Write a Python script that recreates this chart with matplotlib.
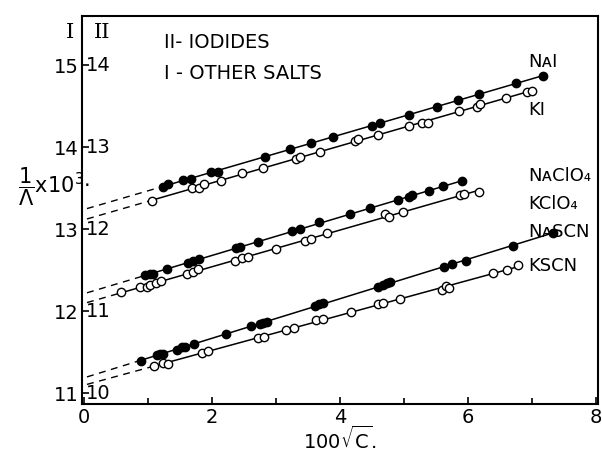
import numpy as np
import matplotlib.pyplot as plt

# 100*sqrt(C) and 1/Lambda x 10^3 (scale I; iodides are read on scale II = I - 1)
nai_x = [1.23, 1.31, 1.55, 1.67, 1.98, 2.09, 2.83, 3.22, 3.55, 3.89, 4.50, 4.62, 5.08, 5.52, 5.84, 6.17, 6.75, 7.17]
nai_y = [13.51, 13.55, 13.60, 13.61, 13.70, 13.70, 13.88, 13.98, 14.05, 14.12, 14.26, 14.29, 14.39, 14.49, 14.57, 14.65, 14.78, 14.87]

ki_x = [1.06, 1.69, 1.80, 1.88, 2.14, 2.47, 2.80, 3.31, 3.38, 3.69, 4.23, 4.28, 4.59, 5.08, 5.28, 5.38, 5.86, 6.14, 6.19, 6.59, 6.92, 7.00]
ki_y = [13.34, 13.50, 13.50, 13.55, 13.59, 13.68, 13.74, 13.85, 13.88, 13.94, 14.07, 14.10, 14.15, 14.26, 14.30, 14.30, 14.44, 14.49, 14.52, 14.60, 14.67, 14.68]

naclo4_x = [0.95, 1.03, 1.08, 1.30, 1.63, 1.70, 1.80, 2.38, 2.44, 2.72, 3.25, 3.38, 3.67, 4.16, 4.47, 4.91, 5.08, 5.13, 5.39, 5.61, 5.91]
naclo4_y = [12.44, 12.45, 12.45, 12.51, 12.59, 12.61, 12.63, 12.77, 12.78, 12.84, 12.98, 13.00, 13.09, 13.18, 13.26, 13.35, 13.39, 13.41, 13.46, 13.52, 13.59]

kclo4_x = [0.58, 0.88, 0.98, 1.03, 1.13, 1.20, 1.61, 1.70, 1.78, 2.36, 2.47, 2.56, 3.00, 3.45, 3.55, 3.80, 4.70, 4.77, 4.98, 5.88, 5.94, 6.17]
kclo4_y = [12.23, 12.29, 12.29, 12.32, 12.34, 12.37, 12.45, 12.48, 12.51, 12.61, 12.65, 12.66, 12.76, 12.85, 12.88, 12.95, 13.18, 13.15, 13.21, 13.41, 13.43, 13.45]

nascn_x = [0.89, 1.14, 1.19, 1.23, 1.45, 1.53, 1.58, 1.72, 2.22, 2.61, 2.75, 2.80, 2.86, 3.61, 3.67, 3.73, 4.59, 4.67, 4.73, 4.78, 5.63, 5.75, 5.97, 6.70, 7.33]
nascn_y = [11.39, 11.46, 11.48, 11.48, 11.52, 11.56, 11.56, 11.60, 11.72, 11.82, 11.84, 11.85, 11.87, 12.06, 12.09, 12.10, 12.29, 12.32, 12.34, 12.35, 12.54, 12.57, 12.61, 12.79, 12.95]

kscn_x = [1.09, 1.23, 1.31, 1.84, 1.94, 2.72, 2.81, 3.16, 3.28, 3.63, 3.73, 4.17, 4.59, 4.67, 4.94, 5.59, 5.66, 5.70, 6.39, 6.61, 6.78]
kscn_y = [11.33, 11.37, 11.35, 11.49, 11.51, 11.67, 11.68, 11.77, 11.79, 11.89, 11.90, 11.99, 12.09, 12.10, 12.15, 12.26, 12.30, 12.28, 12.46, 12.50, 12.56]

yticks_I = [11, 12, 13, 14, 15]
yticks_II = ['10', '11', '12', '13', '14']

series = [
    (nai_x, nai_y, True, 'N\u1d00I'),
    (ki_x, ki_y, False, 'KI'),
    (naclo4_x, naclo4_y, True, 'N\u1d00ClO\u2084'),
    (kclo4_x, kclo4_y, False, 'KClO\u2084'),
    (nascn_x, nascn_y, True, 'N\u1d00SCN'),
    (kscn_x, kscn_y, False, 'KSCN'),
]
label_y = [15.04, 14.45, 13.65, 13.31, 12.96, 12.55]

fig = plt.figure(figsize=(6.02, 4.55), dpi=100)
ax = fig.add_axes([0.136, 0.112, 0.857, 0.853])

for (x, y, filled, name), ly in zip(series, label_y):
    x = np.array(x)
    y = np.array(y)
    k, b = np.polyfit(x, y, 1)
    ax.plot([x.min(), x.max()], [k * x.min() + b, k * x.max() + b], color='black', lw=1.1, zorder=1)
    ax.plot([0.05, x.min()], [k * 0.05 + b, k * x.min() + b], color='black', lw=1.0,
            dashes=(5, 4), zorder=1)
    ax.plot(x, y, 'o', ms=6, mec='black', mew=1.0,
            mfc='black' if filled else 'white', zorder=2)
    ax.text(6.95, ly, name, fontsize=13, va='center', ha='left')

ax.set_xlim(-0.03, 8.03)
ax.set_ylim(10.866, 15.6)
ax.set_xticks([0, 2, 4, 6, 8])
ax.set_xticks([1, 3, 5, 7], minor=True)
ax.set_yticks(yticks_I)
ax.set_yticklabels([str(v) for v in yticks_I])
ax.tick_params(axis='both', direction='in', length=5, width=1.2, labelsize=14)
ax.tick_params(axis='x', which='minor', direction='in', length=4, width=1.2)
ax.tick_params(axis='x', pad=3)
ax.tick_params(axis='y', pad=2)
for sp in ax.spines.values():
    sp.set_linewidth(1.5)

for v, lab in zip(yticks_I, yticks_II):
    ax.text(0.04, v, lab, fontsize=14, va='center', ha='left')

ax.text(-0.15, 15.4, 'I', fontsize=15, va='center', ha='right', family='DejaVu Serif')
ax.text(0.15, 15.4, 'II', fontsize=15, va='center', ha='left', family='DejaVu Serif')
ax.text(1.25, 15.28, 'II- IODIDES', fontsize=14, va='center', ha='left')
ax.text(1.25, 14.9, 'I - OTHER SALTS', fontsize=14, va='center', ha='left')

fig.text(0.03, 0.59, r'$\dfrac{1}{\Lambda}$x10$^{3}$$\cdot$', fontsize=15, va='center', ha='left')
fig.text(0.565, 0.035, r'100$\sqrt{\mathrm{C}}$.', fontsize=14, va='center', ha='center')

fig.savefig('out.png', dpi=100)
